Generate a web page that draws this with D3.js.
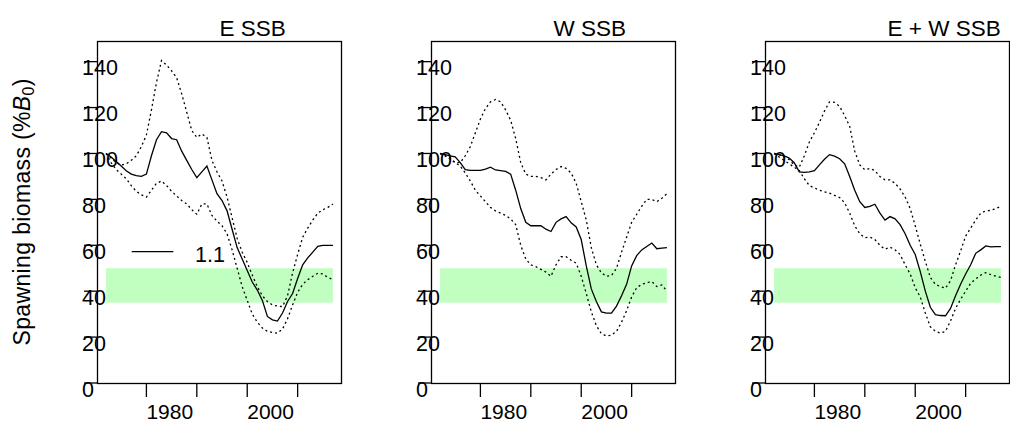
<!DOCTYPE html>
<html>
<head>
<meta charset="utf-8">
<script src="https://cdn.jsdelivr.net/npm/d3@7"></script>
<style>
  body { margin: 0; background: #fff; }
  svg { display: block; font-family: "Liberation Sans", Arial, sans-serif; }
</style>
</head>
<body>
<div id="container"></div>
<script>
// years of the series
const years = [1972, 1973, 1974, 1975, 1976, 1977, 1978, 1979, 1980, 1981,
    1982, 1983, 1984, 1985, 1986, 1987, 1988, 1989, 1990, 1991,
    1992, 1993, 1994, 1995, 1996, 1997, 1998, 1999, 2000, 2001,
    2002, 2003, 2004, 2005, 2006, 2007, 2008, 2009, 2010, 2011,
    2012, 2013, 2014, 2015, 2016, 2017];

// E SSB (% B0)
const eMed = [100, 98.5, 96.5, 94.5, 92.5, 91, 90.3, 90, 91, 99,
    106, 109.5, 109, 106.5, 106, 101, 97, 93, 89.5, 92,
    94.5, 88.5, 82.5, 79.5, 75, 67, 59, 54, 49, 44,
    40.5, 36, 29, 27.5, 27, 30.5, 35.5, 39, 45.5, 51.5,
    54.5, 57, 59.5, 60, 60, 60];
const eHi = [100, 98, 96, 95, 95.5, 97, 99, 103, 108, 119,
    131, 140.5, 138.5, 136, 133, 126, 118, 110, 107, 108.5,
    107, 97, 92, 88, 81, 72, 63, 57, 52.5, 47,
    42, 38, 35.5, 34, 33.5, 33.3, 38, 48, 56, 63.5,
    67.5, 71, 74, 75.5, 76.5, 78];
const eLo = [100, 96, 93, 91, 89, 86, 83.5, 82, 81, 84,
    87, 88, 86, 83.5, 81.5, 79.5, 78, 75.5, 73.5, 78,
    78, 73, 70.5, 68.5, 65, 58, 50, 42, 36, 30,
    26.5, 24, 22.5, 22, 21.7, 23.5, 28, 34, 39.5, 43,
    45, 46.5, 47.8, 47.5, 46, 45];

// W SSB
const wMed = [100, 99.5, 99, 98.5, 96, 93, 92.6, 92.6, 92.6, 93.2,
    94, 92.8, 92.5, 92.2, 91, 84, 76, 70, 68.5, 68.5,
    68.5, 67, 66, 70, 71.5, 72.5, 69.8, 68, 62.5, 51,
    41, 35.5, 31, 30.4, 30.4, 33.5, 38, 43, 51, 55.5,
    58, 59.5, 61, 58.5, 58.8, 59];
const wHi = [100, 99, 97.5, 96, 96, 99, 103, 109, 115, 119.5,
    122.5, 123.5, 122.5, 119, 114.5, 106.5, 96, 91, 90, 90,
    89.5, 88.5, 91, 93, 94.3, 93.5, 91.5, 87, 79, 71,
    59, 51.5, 48, 46.5, 46.8, 50, 57, 63.5, 70, 73.5,
    77, 80, 80, 79, 80.5, 82.5];
const wLo = [100, 99, 98, 96, 94.5, 91.5, 88, 84, 81.5, 79,
    76.5, 75, 74, 73, 71.5, 69, 60, 54, 51.5, 50.7,
    49.5, 48.3, 46.5, 51.5, 55, 55, 53.5, 52.2, 46.5, 39,
    31, 25, 21.5, 20.5, 20.8, 22.5, 26.5, 31.5, 37.5, 41.5,
    43, 43.7, 44.2, 42, 42.7, 40];

// E + W SSB
const ewMed = [100, 99.5, 99, 98, 96, 92, 91.8, 92, 92.5, 95,
    97.5, 99.5, 98.8, 97.7, 95.5, 90, 84, 79, 76.5, 77,
    77.9, 74, 71, 72.5, 71.5, 69, 65, 60, 56, 48.5,
    40, 33, 29.8, 29.4, 29.3, 32.5, 38, 43, 47.5, 51.5,
    56.5, 58, 59.7, 59.3, 59.4, 59.4];
const ewHi = [100, 99.5, 98.5, 97.3, 95, 94, 99, 105, 109, 113.5,
    118.5, 122.5, 122.3, 120.5, 116.5, 111.8, 101, 95, 92.9, 93.5,
    92.5, 90, 88.5, 88.5, 87, 84.5, 81, 76, 68.5, 60.5,
    53, 46, 43, 42, 41.3, 44.5, 51.5, 57.5, 64, 67.5,
    71, 74, 75, 75.2, 76, 77];
const ewLo = [100, 98.5, 97, 95.5, 94, 92.5, 89, 86, 85, 84,
    83.3, 82.7, 81.7, 80.8, 78.5, 74, 68.5, 65, 63.3, 63.6,
    62.5, 60, 58.3, 59.2, 58, 56, 51.5, 47.5, 41.5, 37.5,
    30.5, 24.5, 22.5, 21.7, 22.5, 27, 32.5, 36.5, 40, 43.5,
    45.3, 47, 48.1, 47.2, 46.5, 46];

const panelTitles = ["E SSB", "W SSB", "E + W SSB"];
const yTicks = [0, 20, 40, 60, 80, 100, 120, 140];
const xTicks = [1980, 1990, 2000, 2010];
const xTickLabels = ["1980", "", "2000", ""];
const band = [35, 50];
const legendLabel = "1.1";

const panels = [
    {title: panelTitles[0], med: eMed, lo: eLo, hi: eHi},
    {title: panelTitles[1], med: wMed, lo: wLo, hi: wHi},
    {title: panelTitles[2], med: ewMed, lo: ewLo, hi: ewHi}
];

const width = 1010, height = 424;
const panelLeft = [97, 431, 765];
const panelW = 245;
const plotTop = 41, plotBottom = 383;

const svg = d3.select("#container").append("svg")
    .attr("width", width)
    .attr("height", height);

// x range padded like R's default 4%
const pad = (years[years.length - 1] - years[0]) * 0.04;
const xScale = d3.scaleLinear()
    .domain([years[0] - pad, years[years.length - 1] + pad])
    .range([0, panelW]);
const yScale = d3.scaleLinear()
    .domain([0, 149])
    .range([plotBottom, plotTop]);

const line = d3.line()
    .x(d => xScale(d[0]))
    .y(d => yScale(d[1]));

panels.forEach(function (p, i) {
    const g = svg.append("g")
        .attr("transform", `translate(${panelLeft[i]},0)`);

    // green reference band
    g.append("rect")
        .attr("x", xScale(years[0]))
        .attr("width", xScale(years[years.length - 1]) - xScale(years[0]))
        .attr("y", yScale(band[1]))
        .attr("height", yScale(band[0]) - yScale(band[1]))
        .attr("fill", "#c1ffc1");

    [p.hi, p.lo].forEach(function (s) {
        g.append("path")
            .datum(years.map((yr, k) => [yr, s[k]]))
            .attr("d", line)
            .attr("fill", "none")
            .attr("stroke", "#000")
            .attr("stroke-width", 1.3)
            .attr("stroke-dasharray", "2,3");
    });

    g.append("path")
        .datum(years.map((yr, k) => [yr, p.med[k]]))
        .attr("d", line)
        .attr("fill", "none")
        .attr("stroke", "#000")
        .attr("stroke-width", 1.3);

    // box
    g.append("rect")
        .attr("x", 0.5)
        .attr("y", plotTop + 0.5)
        .attr("width", panelW - 1)
        .attr("height", plotBottom - plotTop)
        .attr("fill", "none")
        .attr("stroke", "#000")
        .attr("stroke-width", 1.3);

    // y axis
    yTicks.forEach(function (t) {
        g.append("line")
            .attr("x1", -13).attr("x2", 0)
            .attr("y1", yScale(t)).attr("y2", yScale(t))
            .attr("stroke", "#000").attr("stroke-width", 1.3);
        g.append("text")
            .attr("x", -15)
            .attr("y", yScale(t) + 13.5)
            .attr("font-size", 21.5)
            .text(t);
    });

    // x axis
    xTicks.forEach(function (t, k) {
        g.append("line")
            .attr("x1", xScale(t)).attr("x2", xScale(t))
            .attr("y1", plotBottom).attr("y2", plotBottom + 14)
            .attr("stroke", "#000").attr("stroke-width", 1.3);
        g.append("text")
            .attr("x", xScale(t))
            .attr("y", 419)
            .attr("font-size", 21)
            .text(xTickLabels[k]);
    });

    g.append("text")
        .attr("x", panelW / 2)
        .attr("y", 36)
        .attr("font-size", 22.5)
        .text(p.title);

    if (i === 0) {
        g.append("line")
            .attr("x1", 34.7).attr("x2", 76.3)
            .attr("y1", 251.7).attr("y2", 251.7)
            .attr("stroke", "#000").attr("stroke-width", 1.3);
        g.append("text")
            .attr("x", 98)
            .attr("y", 261.5)
            .attr("font-size", 21.5)
            .text(legendLabel);
    }
});

// y axis title
const yt = svg.append("text")
    .attr("transform", `translate(29.5,${(plotTop + plotBottom) / 2}) rotate(-90)`)
    .attr("text-anchor", "middle")
    .attr("font-size", 23)
    .attr("textLength", 267)
    .attr("lengthAdjust", "spacing");
yt.append("tspan").text("Spawning biomass (%");
yt.append("tspan").attr("font-style", "italic").text("B");
yt.append("tspan").attr("font-size", 16).attr("dy", 4).text("0");
yt.append("tspan").attr("dy", -4).text(")");
</script>
</body>
</html>
